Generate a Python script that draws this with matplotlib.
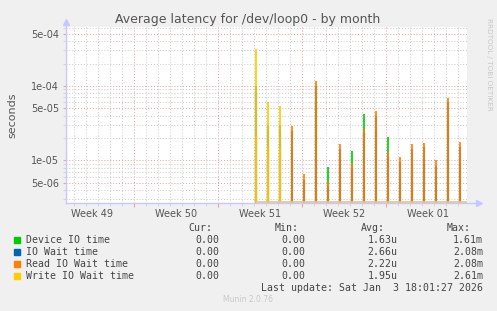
import matplotlib
matplotlib.use("Agg")
import matplotlib.pyplot as plt
from matplotlib.ticker import FixedLocator, FixedFormatter, LogLocator, NullFormatter

# days counted from Mon 1 Dec 2025 00:00
spike_days = [16.2, 17.2, 18.2, 19.2, 20.2, 21.2, 22.2, 23.2, 24.2,
              25.2, 26.2, 27.2, 28.2, 29.2, 30.2, 31.2, 32.2, 33.2]
device_io = [8.0e-5, 2.5e-5, 2.5e-5, 1.5e-5, 4.0e-6, 6.0e-5, 8.2e-6, 9.0e-6, 1.34e-5,
             4.23e-5, 2.5e-5, 2.06e-5, 6.0e-6, 9.0e-6, 9.0e-6, 6.0e-6, 3.5e-5, 9.0e-6]
io_wait = [1.0e-4, 3.0e-5, 3.0e-5, 2.5e-5, 5.5e-6, 1.0e-4, 4.5e-6, 1.4e-5, 8.0e-6,
           2.3e-5, 4.0e-5, 1.1e-5, 9.5e-6, 1.4e-5, 1.5e-5, 8.5e-6, 6.0e-5, 1.5e-5]
read_io = [2.1e-5, 1.5e-5, 1.5e-5, 2.91e-5, 6.5e-6, 1.15e-4, 5.1e-6, 1.66e-5, 9.1e-6,
           2.65e-5, 4.67e-5, 1.31e-5, 1.12e-5, 1.66e-5, 1.71e-5, 1.01e-5, 6.95e-5, 1.77e-5]
write_io = [3.1e-4, 6.0e-5, 5.4e-5, 2.0e-6, 2.0e-6, 2.0e-6, 2.0e-6, 2.0e-6, 2.0e-6,
            2.0e-6, 2.0e-6, 2.0e-6, 2.0e-6, 2.0e-6, 2.0e-6, 2.0e-6, 2.0e-6, 2.0e-6]

series_names = ["Device IO time", "IO Wait time", "Read IO Wait time", "Write IO Wait time"]
series_colors = ["#00cc00", "#0066b3", "#ff8000", "#ffcc00"]
cur_vals = ["0.00", "0.00", "0.00", "0.00"]
min_vals = ["0.00", "0.00", "0.00", "0.00"]
avg_vals = ["1.63u", "2.66u", "2.22u", "1.95u"]
max_vals = ["1.61m", "2.08m", "2.08m", "2.61m"]

week_starts = [-1, 6, 13, 20, 27]
week_labels = ["Week 49", "Week 50", "Week 51", "Week 52", "Week 01"]
y_ticks = [5e-6, 1e-5, 5e-5, 1e-4, 5e-4]
y_tick_labels = ["5e-06", "1e-05", "5e-05", "1e-04", "5e-04"]

x_min, x_max = 0.33, 33.75
y_min, y_max = 2.67e-6, 6.2e-4

bg = "#f0f0f0"
txt = "#555555"
axis_col = "#c8c8ff"

fig = plt.figure(figsize=(4.97, 3.11), dpi=100, facecolor=bg)
ax = fig.add_axes([66 / 497, 1 - 203 / 311, 401 / 497, 176 / 311])
ax.set_facecolor("white")
ax.set_yscale("log")
ax.set_xlim(x_min, x_max)
ax.set_ylim(y_min, y_max)

for s in ax.spines.values():
    s.set_visible(False)

# grid
ax.yaxis.set_major_locator(FixedLocator(y_ticks))
ax.yaxis.set_major_formatter(FixedFormatter(y_tick_labels))
ax.yaxis.set_minor_locator(LogLocator(base=10, subs=[2, 3, 4, 6, 7, 8, 9]))
ax.yaxis.set_minor_formatter(NullFormatter())
ax.xaxis.set_major_locator(FixedLocator(week_starts[1:]))
ax.xaxis.set_minor_locator(FixedLocator(list(range(1, 34))))
ax.xaxis.set_major_formatter(NullFormatter())
ax.grid(which="minor", color="#c8c8c8", linestyle=(0, (1, 2)), linewidth=0.7)
ax.grid(which="major", color="#eb9a9a", linestyle=(0, (1, 2)), linewidth=0.7)
ax.set_axisbelow(True)
ax.tick_params(axis="y", which="major", labelsize=7, labelcolor=txt, length=2,
               color="#f0a0a0", pad=3)
ax.tick_params(axis="y", which="minor", length=2, color="#cfcfcf")
ax.tick_params(axis="x", which="major", length=3, color="#f0a0a0")
ax.tick_params(axis="x", which="minor", length=2, color="#cfcfcf")

for ws, lab in zip(week_starts, week_labels):
    ax.text(ws + 3.5, -0.035, lab, transform=ax.get_xaxis_transform(),
            ha="center", va="top", fontsize=7, color=txt)

# data spikes
values = [device_io, io_wait, read_io, write_io]
for vals, col in zip(values, series_colors):
    ax.vlines(spike_days, y_min * 0.5, vals, colors=col, linewidth=1.5, alpha=0.85)
ax.hlines(y_min * 1.02, spike_days[0], x_max, colors="#e6c680", linewidth=1.2)

# axes with arrows
ax.plot([0, 0], [0, 1.025], transform=ax.transAxes, color=axis_col, lw=1, clip_on=False)
ax.plot([0, 1.025], [0, 0], transform=ax.transAxes, color=axis_col, lw=1, clip_on=False)
ax.plot([0], [1.03], marker="^", ms=4, color=axis_col, transform=ax.transAxes, clip_on=False)
ax.plot([1.03], [0], marker=">", ms=4, color=axis_col, transform=ax.transAxes, clip_on=False)

fig.text(248 / 497, 1 - 19 / 311, "Average latency for /dev/loop0 - by month",
         ha="center", va="center", fontsize=9, color=txt)
fig.text(12 / 497, 1 - 115 / 311, "seconds", rotation=90, ha="center", va="center",
         fontsize=8, color=txt)
fig.text(489 / 497, 1 - 18 / 311, "RRDTOOL / TOBI OETIKER", rotation=-90,
         ha="center", va="top", fontsize=5.2, color="#c8c8c8")

# legend
mono = "DejaVu Sans Mono"
fs = 7.1
leg_col = "#444444"
hdr_y = 1 - 228 / 311
fig.text(212.5 / 497, hdr_y, "Cur:", ha="right", va="center", family=mono, fontsize=fs, color=leg_col)
fig.text(298.5 / 497, hdr_y, "Min:", ha="right", va="center", family=mono, fontsize=fs, color=leg_col)
fig.text(384.5 / 497, hdr_y, "Avg:", ha="right", va="center", family=mono, fontsize=fs, color=leg_col)
fig.text(470.5 / 497, hdr_y, "Max:", ha="right", va="center", family=mono, fontsize=fs, color=leg_col)
for i, name in enumerate(series_names):
    y = 1 - (240 + i * 11.9) / 311
    fig.patches.append(plt.Rectangle((14 / 497, y - 3 / 311), 6 / 497, 6 / 311,
                                     transform=fig.transFigure, color=series_colors[i]))
    fig.text(26 / 497, y, name, ha="left", va="center", family=mono, fontsize=fs, color=leg_col)
    fig.text(219.5 / 497, y, cur_vals[i], ha="right", va="center", family=mono, fontsize=fs, color=leg_col)
    fig.text(305.5 / 497, y, min_vals[i], ha="right", va="center", family=mono, fontsize=fs, color=leg_col)
    fig.text(397.5 / 497, y, avg_vals[i], ha="right", va="center", family=mono, fontsize=fs, color=leg_col)
    fig.text(483 / 497, y, max_vals[i], ha="right", va="center", family=mono, fontsize=fs, color=leg_col)
fig.text(483 / 497, 1 - 288 / 311, "Last update: Sat Jan  3 18:01:27 2026", ha="right",
         va="center", family=mono, fontsize=fs, color=leg_col)
fig.text(248 / 497, 1 - 300 / 311, "Munin 2.0.76", ha="center", va="center",
         fontsize=5.5, color="#c8c8c8")

fig.savefig("out.png", dpi=100, facecolor=bg)
